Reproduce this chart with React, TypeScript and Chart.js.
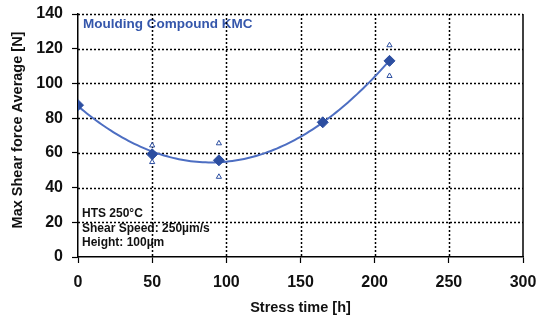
import React, { useEffect, useRef } from "react";
import { Chart, registerables } from "chart.js";
Chart.register(...registerables);

const stressTime = [0, 50, 95, 165, 210];
const avgForce = [87.5, 59.2, 55.7, 77.6, 113];
const rangeTime = [50, 50, 95, 95, 210, 210];
const rangeForce = [64.3, 54.7, 65.5, 46.2, 122, 104.3];
const xTickValues = [0, 50, 100, 150, 200, 250, 300];
const yTickValues = [0, 20, 40, 60, 80, 100, 120, 140];
const chartTitle = "Moulding Compound KMC";
const noteLines = ["HTS 250°C", "Shear Speed: 250µm/s", "Height: 100µm"];
const xTitle = "Stress time [h]";
const yTitle = "Max Shear force Average [N]";

const FONT = "'Liberation Sans', Arial, sans-serif";
const MARK = "#2c4ea0";
const LINE = "#4d6ec2";

// least-squares quadratic trendline (like a spreadsheet polynomial trendline)
function quadFit(xs: number[], ys: number[]) {
  let s0 = 0, s1 = 0, s2 = 0, s3 = 0, s4 = 0, t0 = 0, t1 = 0, t2 = 0;
  xs.forEach((x, i) => {
    const y = ys[i];
    s0 += 1; s1 += x; s2 += x * x; s3 += x * x * x; s4 += x * x * x * x;
    t0 += y; t1 += x * y; t2 += x * x * y;
  });
  const A = [
    [s0, s1, s2, t0],
    [s1, s2, s3, t1],
    [s2, s3, s4, t2],
  ];
  for (let c = 0; c < 3; c++) {
    for (let r = c + 1; r < 3; r++) {
      const f = A[r][c] / A[c][c];
      for (let k = c; k < 4; k++) A[r][k] -= f * A[c][k];
    }
  }
  const sol = [0, 0, 0];
  for (let r = 2; r >= 0; r--) {
    let v = A[r][3];
    for (let k = r + 1; k < 3; k++) v -= A[r][k] * sol[k];
    sol[r] = v / A[r][r];
  }
  return (x: number) => sol[0] + sol[1] * x + sol[2] * x * x;
}

export default function App() {
  const ref = useRef<HTMLCanvasElement>(null);
  useEffect(() => {
    if (!ref.current) return;
    const fit = quadFit(stressTime, avgForce);
    const xMax = stressTime[stressTime.length - 1];
    const trend: { x: number; y: number }[] = [];
    for (let x = stressTime[0]; x <= xMax; x += 2) trend.push({ x, y: fit(x) });

    const overlay = {
      id: "overlay",
      beforeDatasetsDraw(chart: any) {
        const { ctx, chartArea: a, scales } = chart;
        const xs = scales.x, ys = scales.y;
        ctx.save();
        ctx.textAlign = "left";
        ctx.textBaseline = "alphabetic";
        ctx.fillStyle = "#3456ab";
        ctx.font = `bold 13.5px ${FONT}`;
        ctx.fillText(chartTitle, 83, 28);
        ctx.fillStyle = "#111";
        ctx.font = `bold 12px ${FONT}`;
        noteLines.forEach((t, i) => ctx.fillText(t, 82, 217 + i * 14.5));
        ctx.strokeStyle = "#000";
        ctx.lineWidth = 1.5;
        ctx.setLineDash([2, 2]);
        xTickValues.slice(1, -1).forEach((v) => {
          const px = Math.round(xs.getPixelForValue(v)) + 0.5;
          ctx.beginPath();
          ctx.moveTo(px, a.top);
          ctx.lineTo(px, a.bottom);
          ctx.stroke();
        });
        yTickValues.slice(1).forEach((v) => {
          const py = Math.round(ys.getPixelForValue(v)) + 0.5;
          ctx.beginPath();
          ctx.moveTo(a.left, py);
          ctx.lineTo(a.right, py);
          ctx.stroke();
        });
        ctx.setLineDash([]);
        ctx.lineWidth = 1.5;
        ctx.beginPath();
        ctx.moveTo(a.right, a.top);
        ctx.lineTo(a.right, a.bottom);
        ctx.stroke();
        ctx.restore();
      },
      afterDraw(chart: any) {
        const { ctx, chartArea: a } = chart;
        ctx.save();
        ctx.fillStyle = "#111";
        ctx.font = `bold 14.5px ${FONT}`;
        ctx.textAlign = "center";
        ctx.textBaseline = "middle";
        ctx.fillText(xTitle, (a.left + a.right) / 2, 308);
        ctx.translate(17.5, 130);
        ctx.rotate(-Math.PI / 2);
        ctx.fillText(yTitle, 0, 0);
        ctx.restore();
      },
    };

    const chart = new Chart(ref.current, {
      type: "scatter",
      data: {
        datasets: [
          {
            type: "line",
            data: trend,
            borderColor: LINE,
            borderWidth: 2,
            pointRadius: 0,
            fill: false,
            order: 3,
          } as any,
          {
            data: rangeTime.map((x, i) => ({ x, y: rangeForce[i] })),
            pointStyle: "triangle",
            pointRadius: 3,
            borderColor: MARK,
            borderWidth: 1,
            backgroundColor: "#ffffff",
            order: 2,
          },
          {
            data: stressTime.map((x, i) => ({ x, y: avgForce[i] })),
            pointStyle: "rectRot",
            pointRadius: 5.5,
            borderColor: MARK,
            borderWidth: 1,
            backgroundColor: MARK,
            order: 1,
          },
        ],
      },
      options: {
        responsive: false,
        animation: false,
        layout: { padding: { top: 14, right: 19, left: 0, bottom: 0 } },
        plugins: { legend: { display: false }, tooltip: { enabled: false } },
        scales: {
          x: {
            type: "linear",
            min: 0,
            max: 300,
            afterFit: (s: any) => { s.height = 63; s.paddingLeft = 0; s.paddingRight = 0; },
            afterBuildTicks: (s: any) => { s.ticks = xTickValues.map((v) => ({ value: v })); },
            grid: { drawOnChartArea: false, tickLength: 6, tickColor: "#000", tickWidth: 1.2 },
            border: { display: true, color: "#000", width: 1.5 },
            ticks: { color: "#111", padding: 10, font: { family: FONT, size: 16, weight: "bold" }, maxRotation: 0 },
          },
          y: {
            type: "linear",
            min: 0,
            max: 140,
            afterFit: (s: any) => { s.width = 78; s.paddingTop = 0; s.paddingBottom = 0; },
            afterBuildTicks: (s: any) => { s.ticks = yTickValues.map((v) => ({ value: v })); },
            grid: { drawOnChartArea: false, tickLength: 6, tickColor: "#000", tickWidth: 1.2 },
            border: { display: true, color: "#000", width: 1.5 },
            ticks: { color: "#111", padding: 9, font: { family: FONT, size: 16, weight: "bold" } },
          },
        },
      } as any,
      plugins: [overlay],
    });
    return () => chart.destroy();
  }, []);
  return (
    <div style={{ position: "absolute", left: 0, top: 0, width: 542, height: 320, background: "#fff" }}>
      <canvas ref={ref} width={542} height={320} />
    </div>
  );
}
